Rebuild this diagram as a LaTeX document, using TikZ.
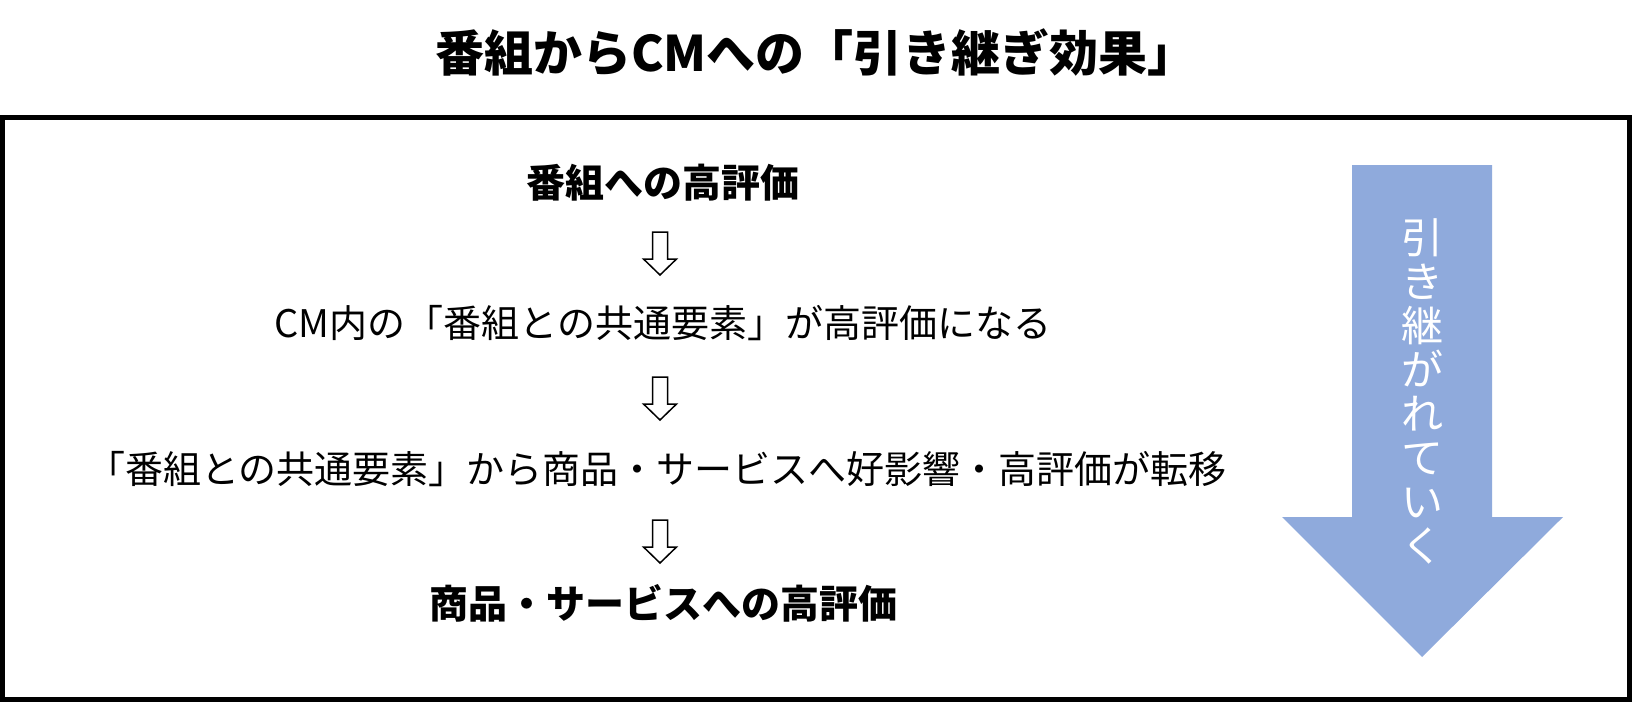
\documentclass[tikz,border=0pt]{standalone}
\usepackage{fontspec}
\setmainfont{Noto Sans CJK JP}
\usetikzlibrary{positioning,calc}

\definecolor{flowblue}{HTML}{8FAADC}

\tikzset{
  heading/.style={font=\fontsize{49}{58}\selectfont\bfseries},
  lead/.style={font=\fontsize{39}{47}\selectfont\bfseries},
  body/.style={font=\fontsize{38}{46}\selectfont},
  vtext/.style={font=\fontsize{42}{44}\selectfont, text=white, align=center},
  thenarrow/.pic={
    \draw[line width=1.5pt, fill=white, line join=miter]
      (-7.5,-21) -- (7.5,-21) -- (7.5,6) -- (16.5,6) -- (0,22)
      -- (-16.5,6) -- (-7.5,6) -- cycle;
  }
}

\begin{document}
\begin{tikzpicture}[x=1pt,y=-1pt]
  \fill[white] (0,0) rectangle (1632,702);
  \useasboundingbox (0,0) rectangle (1632,702);

  \node[heading] (title) at (816,52) {番組からCMへの「引き継ぎ効果」};
  \draw[line width=5pt] (2.5,117.5) rectangle (1629.5,699.5);

  % steps
  \node[lead] (high) at (663,183) {番組への高評価};
  \node[body] (common) at (663,323) {CM内の「番組との共通要素」が高評価になる};
  \node[body] (transfer) at (657,469) {「番組との共通要素」から商品・サービスへ好影響・高評価が転移};
  \node[lead] (product) at (663,603) {商品・サービスへの高評価};

  \pic at ($(high)!0.5!(common)+(-3,0)$) {thenarrow};
  \pic at ($(common)!0.5!(transfer)+(0,2)$) {thenarrow};
  \pic at ($(transfer)!0.5!(product)+(0,5)$) {thenarrow};

  % big arrow
  \fill[flowblue] (1352,165) -- (1492,165) -- (1492,517) -- (1563,517)
    -- (1422,657) -- (1282,517) -- (1352,517) -- cycle;
  \node[vtext] (carry) at (1422,391) {引\\き\\継\\が\\れ\\て\\い\\く};
\end{tikzpicture}
\end{document}
